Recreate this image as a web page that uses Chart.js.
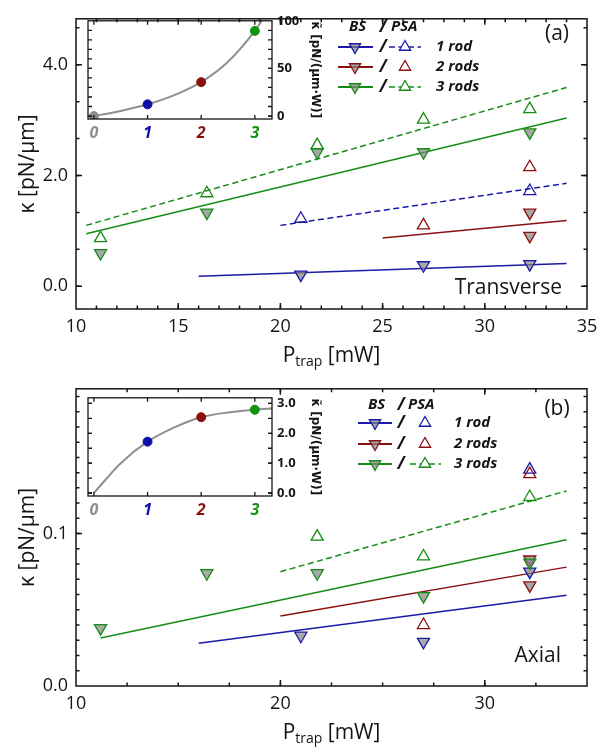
<!DOCTYPE html>
<html>
<head>
<meta charset="utf-8">
<script src="https://cdn.jsdelivr.net/npm/chart.js@4.4.0/dist/chart.umd.min.js"></script>
<style>
body{margin:0;background:#fff;width:605px;height:747px;position:relative;overflow:hidden}
canvas{position:absolute}
</style>
</head>
<body>
<canvas id="mainA" width="605" height="370" style="left:0;top:0"></canvas>
<canvas id="mainB" width="605" height="377" style="left:0;top:370px"></canvas>
<canvas id="insetA" width="270" height="140" style="left:60px;top:8px"></canvas>
<canvas id="insetB" width="270" height="140" style="left:60px;top:385px"></canvas>
<script>
const FONT = '"Open Sans", "DejaVu Sans", sans-serif'
const INK = '#151515'
const BLUE = '#1a1aa6', RED = '#8b1111', GREEN = '#168c16', GRAY = '#8f8f8f'
const BS_FILL = 'rgba(135,135,135,0.72)'

// ---- panel (a), transverse: kappa [pN/um] vs P_trap [mW]
const pBS1A = [21.0, 27.0, 32.2],  kBS1A = [0.21, 0.38, 0.40]
const pPSA1A = [21.0, 32.2],       kPSA1A = [1.22, 1.72]
const pBS2A = [32.2, 32.2],        kBS2A = [1.33, 0.91]
const pPSA2A = [27.0, 32.2],       kPSA2A = [1.10, 2.15]
const pBS3A = [11.2, 16.4, 21.8, 27.0, 32.2], kBS3A = [0.60, 1.33, 2.42, 2.42, 2.78]
const pPSA3A = [11.2, 16.4, 21.8, 27.0, 32.2], kPSA3A = [0.87, 1.68, 2.55, 3.01, 3.20]
// fitted lines (end points)
const fitBS1A = [[16, 34], [0.18, 0.41]]
const fitPSA1A = [[20, 34], [1.10, 1.86]]
const fitBS2A = [[25, 34], [0.87, 1.19]]
const fitBS3A = [[10.5, 34], [0.95, 3.04]]
const fitPSA3A = [[10.5, 34], [1.10, 3.59]]
const xTicksA = [10, 15, 20, 25, 30, 35]
const yTicksA = [0, 2, 4]

// ---- panel (b), axial
const pBS1B = [21.0, 27.0, 32.2],  kBS1B = [0.033, 0.029, 0.075]
const pPSA1B = [32.2],             kPSA1B = [0.142]
const pBS2B = [32.2, 32.2],        kBS2B = [0.083, 0.066]
const pPSA2B = [27.0, 32.2],       kPSA2B = [0.040, 0.139]
const pBS3B = [11.2, 16.4, 21.8, 27.0, 32.2], kBS3B = [0.038, 0.074, 0.074, 0.059, 0.081]
const pPSA3B = [21.8, 27.0, 32.2], kPSA3B = [0.098, 0.085, 0.124]
const fitBS1B = [[16, 34], [0.028, 0.0595]]
const fitBS2B = [[20, 34], [0.046, 0.078]]
const fitBS3B = [[11.2, 34], [0.0315, 0.096]]
const fitPSA3B = [[20, 34], [0.075, 0.128]]
const xTicksB = [10, 20, 30]
const yTicksB = [0, 0.1]

// ---- insets: kappa-tilde vs number of rods
const rods = [0, 1, 2, 3]
const rodColors = [GRAY, '#0d0da8', '#8b0f0f', '#129312']
const kTildeA = [0, 12.3, 35.6, 89.4]
const curveNA = [0, 0.5, 1, 1.5, 2, 2.5, 3, 3.2]
const curveKA = [0, 5.4, 12.3, 22, 35.6, 57, 89.4, 106]
const rodsB = [1, 2, 3]
const kTildeB = [1.72, 2.54, 2.79]
const curveNB = [0, 0.5, 1, 1.5, 2, 2.5, 3, 3.35]
const curveKB = [0, 1.0, 1.72, 2.2, 2.54, 2.7, 2.79, 2.84]
const insetTicksYA = [0, 50, 100]
const insetTicksYB = [0, 1, 2, 3]

function pts(xs, ys){
    return xs.map((x, i) => ({x: x, y: ys[i]}))
}
function markers(xs, ys, color, down){
    return {
        data: pts(xs, ys), showLine: false, order: 1,
        pointStyle: 'triangle', rotation: down ? 180 : 0, pointRadius: 7,
        pointBorderWidth: 1.3, pointBorderColor: color,
        pointBackgroundColor: down ? BS_FILL : 'rgba(255,255,255,0)'
    }
}
function fit(f, color, dashed){
    return {
        data: pts(f[0], f[1]), showLine: true, order: 2, pointRadius: 0,
        borderColor: color, borderWidth: 1.5, borderDash: dashed ? [6, 3.5] : []
    }
}

function tri(ctx, x, y, r, down, color, fill){
    const s = down ? -1 : 1
    ctx.beginPath()
    ctx.moveTo(x, y - s * r)
    ctx.lineTo(x + r * 0.866, y + s * r * 0.5)
    ctx.lineTo(x - r * 0.866, y + s * r * 0.5)
    ctx.closePath()
    if (fill){ ctx.fillStyle = fill; ctx.fill() }
    ctx.setLineDash([])
    ctx.strokeStyle = color; ctx.lineWidth = 1.3; ctx.stroke()
}

const frame = {
    id: 'frame',
    afterDatasetsDraw(chart, args, o){
        const ctx = chart.ctx
        const {left, right, top, bottom} = chart.chartArea
        const xs = chart.scales.x, ys = chart.scales.y
        ctx.save()
        ctx.strokeStyle = INK
        ctx.lineWidth = o.lw
        ctx.setLineDash([])
        ctx.strokeRect(left, top, right - left, bottom - top)

        const vals = (scale, step) => {
            if (!step) return []
            const out = []
            for (let v = Math.ceil(scale.min / step - 1e-6) * step; v <= scale.max + 1e-9; v += step) out.push(v)
            return out
        }
        const drawX = (list, len) => list.forEach(v => {
            const px = xs.getPixelForValue(v)
            if (px < left + 1 || px > right - 1) return
            ctx.beginPath()
            ctx.moveTo(px, bottom); ctx.lineTo(px, bottom - len)
            ctx.moveTo(px, top); ctx.lineTo(px, top + len)
            ctx.stroke()
        })
        const drawY = (list, len) => list.forEach(v => {
            const py = ys.getPixelForValue(v)
            if (py < top + 1 || py > bottom - 1) return
            ctx.beginPath()
            ctx.moveTo(left, py); ctx.lineTo(left + len, py)
            ctx.moveTo(right, py); ctx.lineTo(right - len, py)
            ctx.stroke()
        })
        drawX(vals(xs, o.xMinor), o.minorLen)
        drawY(vals(ys, o.yMinor), o.minorLen)
        drawX(o.xMajor, o.majorLen)
        drawY(o.yMajor, o.majorLen)

        // x axis title with subscript
        if (o.xTitle){
            const cx = (left + right) / 2, cy = chart.height - o.xTitle
            ctx.fillStyle = INK
            ctx.textBaseline = 'middle'
            ctx.textAlign = 'left'
            const big = '500 21px ' + FONT, small = '500 14px ' + FONT
            ctx.font = big; const w1 = ctx.measureText('P').width, w3 = ctx.measureText(' [mW]').width
            ctx.font = small; const w2 = ctx.measureText('trap').width
            let x0 = cx - (w1 + w2 + w3) / 2
            ctx.font = big; ctx.fillText('P', x0, cy)
            ctx.font = small; ctx.fillText('trap', x0 + w1, cy + 6)
            ctx.font = big; ctx.fillText(' [mW]', x0 + w1 + w2, cy)
        }

        // free text labels
        (o.labels || []).forEach(t => {
            ctx.fillStyle = INK
            ctx.font = t.font
            ctx.textAlign = t.align
            ctx.textBaseline = 'middle'
            ctx.fillText(t.text, t.x, t.y)
        })

        // legend
        const lg = o.legend
        if (lg){
            const bi = 'italic bold 15px ' + FONT
            ctx.fillStyle = INK
            ctx.font = bi
            ctx.textBaseline = 'middle'
            ctx.textAlign = 'left'
            ctx.fillText('BS', lg.bsX, lg.headY)
            ctx.fillText('PSA', lg.psaTextX, lg.headY)
            ctx.textAlign = 'center'
            ctx.font = 'italic bold 17px ' + FONT
            ctx.fillText('/', lg.slashX, lg.headY)
            lg.entries.forEach((e, i) => {
                const y = lg.rows[i]
                ctx.strokeStyle = e.color
                ctx.lineWidth = 2
                ctx.setLineDash([])
                ctx.beginPath(); ctx.moveTo(lg.lineX[0], y); ctx.lineTo(lg.lineX[1], y); ctx.stroke()
                tri(ctx, lg.triX, y, 6.5, true, e.color, BS_FILL)
                ctx.fillStyle = INK
                ctx.font = 'italic bold 17px ' + FONT
                ctx.textAlign = 'center'
                ctx.fillText('/', lg.slashX, y)
                if (e.dashed){
                    ctx.strokeStyle = e.color
                    ctx.lineWidth = 1.5
                    ctx.setLineDash([6, 3.5])
                    ctx.beginPath(); ctx.moveTo(lg.dashX[0], y); ctx.lineTo(lg.dashX[1], y); ctx.stroke()
                    ctx.setLineDash([])
                }
                tri(ctx, lg.psaX, y, 6.5, false, e.color, '#fff')
                ctx.fillStyle = INK
                ctx.font = bi
                ctx.textAlign = 'left'
                ctx.fillText(e.text, lg.textX, y)
            })
        }
        ctx.restore()
    }
}

function makePanel(id, p){
    return new Chart(document.getElementById(id), {
        type: 'scatter',
        data: {datasets: p.datasets},
        options: {
            responsive: false,
            animation: false,
            layout: {padding: {left: 0, right: 18, top: p.padTop, bottom: 0}},
            plugins: {legend: {display: false}, tooltip: {enabled: false}, frame: p.frame},
            scales: {
                x: {
                    type: 'linear', min: 10, max: 35,
                    grid: {display: false, drawTicks: false}, border: {display: false},
                    ticks: {autoSkip: false, maxRotation: 0, padding: 7, color: INK,
                        font: {family: FONT, size: 18, weight: '500'}},
                    afterBuildTicks: s => { s.ticks = p.xTicks.map(v => ({value: v})) },
                    afterFit: s => { s.height = 61 }
                },
                y: {
                    type: 'linear', min: p.yMin, max: p.yMax,
                    grid: {display: false, drawTicks: false}, border: {display: false},
                    ticks: {autoSkip: false, padding: 8, color: INK, font: {family: FONT, size: 18, weight: '500'},
                        callback: v => v.toFixed(1)},
                    title: {display: true, text: 'κ [pN/μm]', color: INK, font: {family: FONT, size: 21, weight: '500'},
                        padding: {top: 15, bottom: 0}},
                    afterBuildTicks: s => { s.ticks = p.yTicks.map(v => ({value: v})) },
                    afterFit: s => { s.width = 76 }
                }
            }
        },
        plugins: [frame]
    })
}

function makeInset(id, q){
    return new Chart(document.getElementById(id), {
        type: 'scatter',
        data: {datasets: [
            {data: pts(q.pts[0], q.pts[1]), showLine: false, order: 1, pointRadius: 4.5,
                pointBackgroundColor: q.colors, pointBorderColor: q.colors},
            {data: pts(q.curve[0], q.curve[1]), showLine: true, order: 2, pointRadius: 0,
                borderColor: GRAY, borderWidth: 2, cubicInterpolationMode: 'monotone'}
        ]},
        options: {
            responsive: false,
            animation: false,
            layout: {padding: {left: 28, right: 0, top: 12, bottom: 0}},
            plugins: {legend: {display: false}, tooltip: {enabled: false}, frame: q.frame},
            scales: {
                x: {
                    type: 'linear', min: -0.11, max: 3.32,
                    grid: {display: false, drawTicks: false}, border: {display: false},
                    ticks: {autoSkip: false, maxRotation: 0, padding: 5,
                        color: c => rodColors[c.index],
                        font: {family: FONT, size: 16, style: 'italic', weight: 'bold'}},
                    afterBuildTicks: s => { s.ticks = rods.map(v => ({value: v})) },
                    afterFit: s => { s.height = 29 }
                },
                y: {
                    type: 'linear', position: 'right', min: q.yMin, max: q.yMax,
                    grid: {display: false, drawTicks: false}, border: {display: false},
                    ticks: {autoSkip: false, padding: 5, color: INK,
                        font: {family: FONT, size: 13, weight: 'bold'}, callback: q.fmt},
                    title: {display: true, text: 'κ̃ [pN/(μm·W)]', color: INK,
                        font: {family: '"DejaVu Sans", sans-serif', size: 12, weight: 'bold'},
                        padding: {top: 8, bottom: 0}},
                    afterBuildTicks: s => { s.ticks = q.yTicks.map(v => ({value: v})) },
                    afterFit: s => { s.width = 58 }
                }
            }
        },
        plugins: [frame]
    })
}

makePanel('mainA', {
    padTop: 6, yMin: -0.41, yMax: 4.83, xTicks: xTicksA, yTicks: yTicksA,
    datasets: [
        markers(pPSA3A, kPSA3A, GREEN, false), markers(pBS3A, kBS3A, GREEN, true),
        markers(pPSA2A, kPSA2A, RED, false), markers(pBS2A, kBS2A, RED, true),
        markers(pPSA1A, kPSA1A, BLUE, false), markers(pBS1A, kBS1A, BLUE, true),
        fit(fitBS1A, BLUE, false), fit(fitPSA1A, BLUE, true), fit(fitBS2A, RED, false),
        fit(fitBS3A, GREEN, false), fit(fitPSA3A, GREEN, true)
    ],
    frame: {
        lw: 1.5, majorLen: 6, minorLen: 3.5, xMajor: xTicksA, yMajor: yTicksA, xMinor: 1, yMinor: 2 / 3,
        xTitle: 14,
        labels: [
            {text: '(a)', x: 557, y: 34, align: 'center', font: '500 21px ' + FONT},
            {text: 'Transverse', x: 562, y: 288, align: 'right', font: '500 21px ' + FONT}
        ],
        legend: {
            bsX: 349, psaTextX: 391, headY: 27, rows: [47, 67, 87],
            lineX: [338, 373], triX: 355, slashX: 383, psaX: 405, dashX: [389, 421], textX: 436,
            entries: [
                {color: BLUE, dashed: true, text: '1 rod'},
                {color: RED, dashed: false, text: '2 rods'},
                {color: GREEN, dashed: true, text: '3 rods'}
            ]
        }
    }
})

makePanel('mainB', {
    padTop: 16, yMin: 0, yMax: 0.195, xTicks: xTicksB, yTicks: yTicksB,
    datasets: [
        markers(pPSA3B, kPSA3B, GREEN, false), markers(pBS3B, kBS3B, GREEN, true),
        markers(pPSA2B, kPSA2B, RED, false), markers(pBS2B, kBS2B, RED, true),
        markers(pPSA1B, kPSA1B, BLUE, false), markers(pBS1B, kBS1B, BLUE, true),
        fit(fitBS1B, BLUE, false), fit(fitBS2B, RED, false),
        fit(fitBS3B, GREEN, false), fit(fitPSA3B, GREEN, true)
    ],
    frame: {
        lw: 1.5, majorLen: 6, minorLen: 3.5, xMajor: xTicksB, yMajor: yTicksB, xMinor: 2.5, yMinor: 0.01,
        xTitle: 14,
        labels: [
            {text: '(b)', x: 557, y: 39, align: 'center', font: '500 21px ' + FONT},
            {text: 'Axial', x: 561, y: 286, align: 'right', font: '500 21px ' + FONT}
        ],
        legend: {
            bsX: 368, psaTextX: 408, headY: 35, rows: [53, 74, 94],
            lineX: [358, 392], triX: 375, slashX: 401, psaX: 425, dashX: [410, 441], textX: 454,
            entries: [
                {color: BLUE, dashed: false, text: '1 rod'},
                {color: RED, dashed: false, text: '2 rods'},
                {color: GREEN, dashed: true, text: '3 rods'}
            ]
        }
    }
})

makeInset('insetA', {
    pts: [rods, kTildeA], colors: rodColors, curve: [curveNA, curveKA],
    yMin: -3.1, yMax: 100, yTicks: insetTicksYA, fmt: v => String(v),
    frame: {lw: 1.3, majorLen: 4, minorLen: 4, xMajor: rods, yMajor: insetTicksYA, xMinor: 0, yMinor: 10}
})

makeInset('insetB', {
    pts: [rodsB, kTildeB], colors: rodColors.slice(1), curve: [curveNB, curveKB],
    yMin: -0.1, yMax: 3.19, yTicks: insetTicksYB, fmt: v => v.toFixed(1),
    frame: {lw: 1.3, majorLen: 4, minorLen: 4, xMajor: rods, yMajor: insetTicksYB, xMinor: 0, yMinor: 0.5}
})
</script>
</body>
</html>
